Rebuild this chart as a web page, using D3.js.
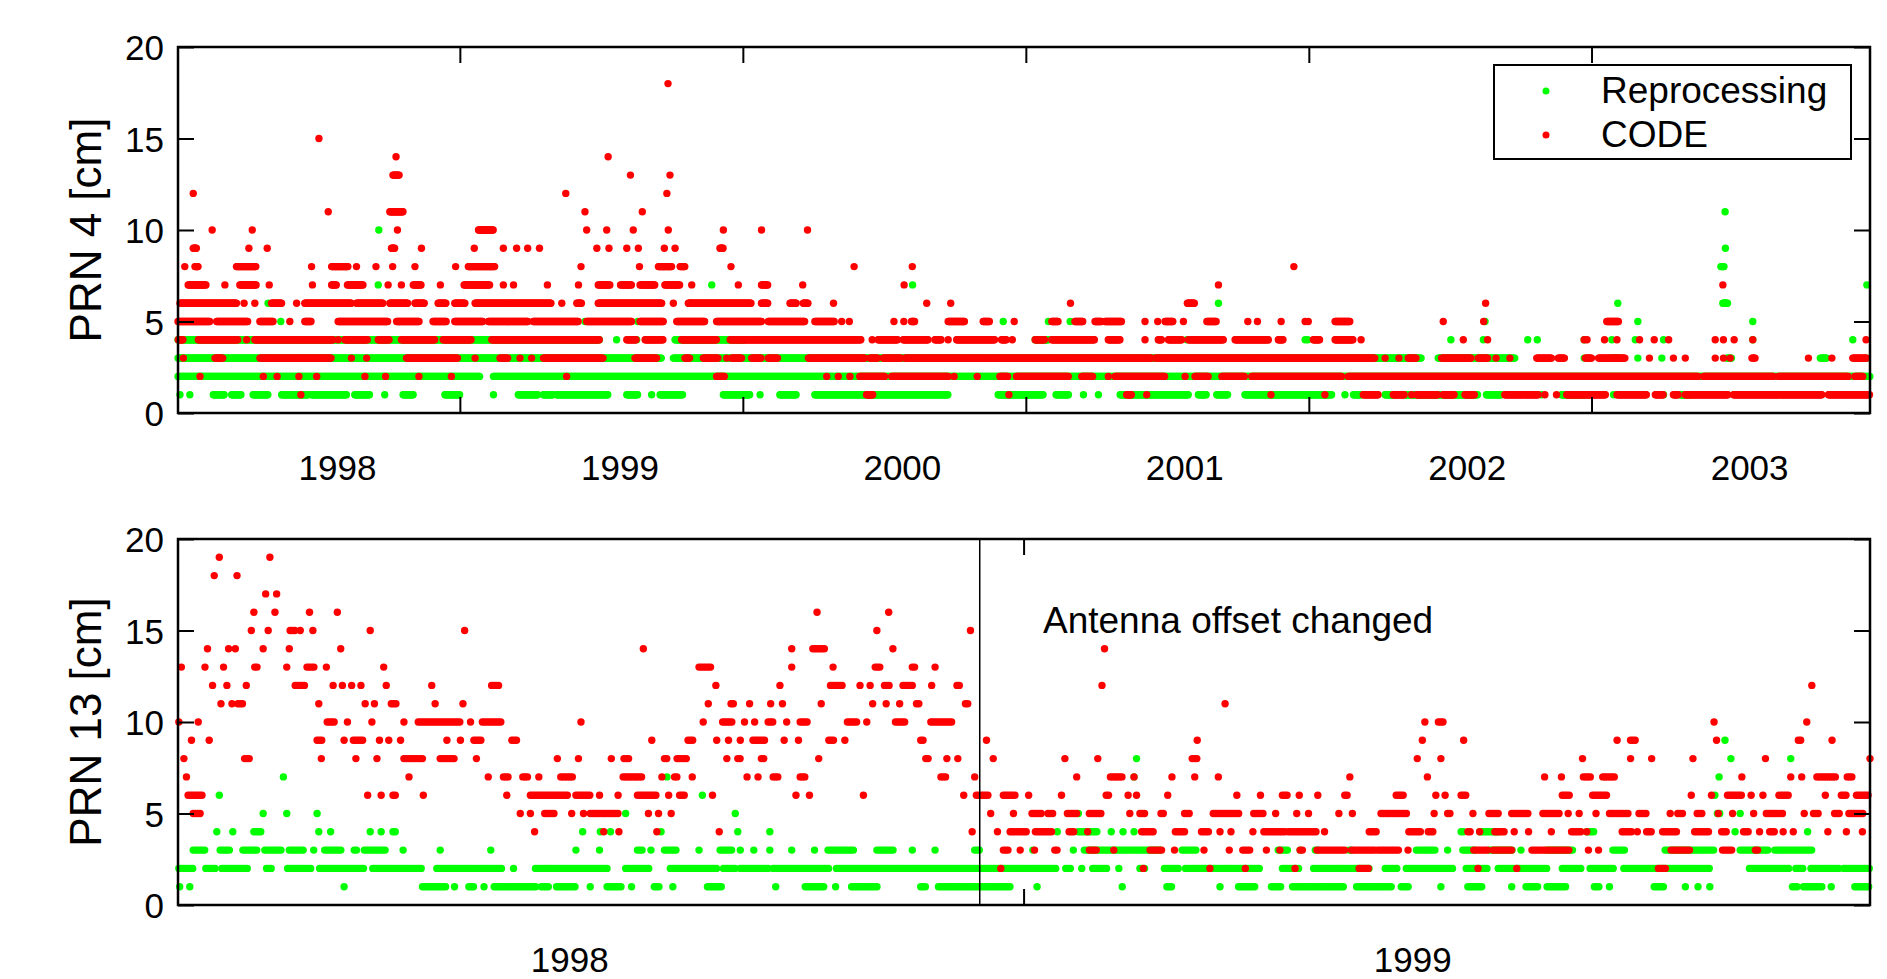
<!DOCTYPE html>
<html>
<head>
<meta charset="utf-8">
<script src="https://cdn.jsdelivr.net/npm/d3@7"></script>
<style>
  body { margin: 0; background: #fff; }
  svg { display: block; font-family: "Liberation Sans", Arial, sans-serif; }
</style>
</head>
<body>
<div id="chart"></div>
<script>
// runs of daily solutions: [value_cm, startYear, endYear]; single days as [value_cm, year]
const prn4Reproc = [
  [2, 1997.437, 1998.507], [2, 1998.554, 2003.428],
  [3, 1997.437, 1999.150], [3, 1999.191, 2001.840], [3, 2001.899, 2002.171], [3, 2002.416],
  [3, 2002.432], [3, 2002.514, 2002.544], [3, 2002.606], [3, 2002.691], [3, 2002.921, 2002.939],
  [3, 2003.252, 2003.275], [3, 2003.417],
  [4, 1997.437, 1998.931], [4, 1998.990], [4, 1999.061], [4, 1999.197, 1999.445],
  [4, 2000.472, 2000.519], [4, 2001.009], [4, 2001.428], [4, 2001.437], [4, 2001.944], [4, 2002.059],
  [4, 2002.216], [4, 2002.250], [4, 2002.416], [4, 2002.514], [4, 2002.597], [4, 2002.697],
  [4, 2003.013], [4, 2003.367],
  [5, 1997.801], [5, 1998.878], [5, 1999.065], [5, 2000.359], [5, 2000.519], [5, 2000.596],
  [5, 2002.065], [5, 2002.606], [5, 2003.013],
  [6, 1997.756], [6, 1999.250], [6, 2001.121], [6, 2002.535], [6, 2002.907, 2002.925],
  [7, 1998.146], [7, 1999.327], [7, 2000.038], [7, 2003.417],
  [8, 2002.900, 2002.912], [9, 2002.916], [10, 1998.148], [11, 2002.915],
  [1, 1997.444], [1, 1997.479], [1, 1997.562, 1997.603], [1, 1997.627, 1997.662], [1, 1997.703, 1997.756],
  [1, 1997.804, 1997.898], [1, 1997.910, 1998.034], [1, 1998.063, 1998.116], [1, 1998.169],
  [1, 1998.234, 1998.270], [1, 1998.382, 1998.435], [1, 1998.554], [1, 1998.642, 1998.713],
  [1, 1998.731, 1998.766], [1, 1998.778, 1998.961], [1, 1999.026, 1999.067], [1, 1999.114],
  [1, 1999.144, 1999.226], [1, 1999.368, 1999.462], [1, 1999.498], [1, 1999.568, 1999.627],
  [1, 1999.692, 2000.164], [1, 2000.341, 2000.501], [1, 2000.546, 2000.590], [1, 2000.643], [1, 2000.696],
  [1, 2000.773, 2001.015], [1, 2001.050, 2001.080], [1, 2001.115, 2001.156], [1, 2001.215, 2001.522],
  [1, 2001.569], [1, 2001.599, 2001.628], [1, 2001.711, 2001.746], [1, 2001.781, 2002.041],
  [1, 2002.070, 2002.124], [1, 2002.265], [1, 2002.336, 2002.419], [1, 2002.520], [1, 2002.697],
  [1, 2002.756, 2002.791], [1, 2003.098]
];

const prn4Code = [
  [1, 1997.872], [1, 1999.875, 1999.899], [1, 2000.379], [1, 2000.796, 2000.814], [1, 2000.867], [1, 2001.307],
  [1, 2001.498], [1, 2001.634, 2001.687], [1, 2001.740, 2001.781], [1, 2001.805], [1, 2001.823, 2001.899],
  [1, 2001.917, 2001.958], [1, 2001.994, 2002.029], [1, 2002.135, 2002.253], [1, 2002.277], [1, 2002.318],
  [1, 2002.354, 2002.491], [1, 2002.532, 2002.638], [1, 2002.668, 2002.697], [1, 2002.732, 2002.750],
  [1, 2002.774, 2002.927], [1, 2002.945, 2003.258], [1, 2003.281, 2003.428],
  [2, 1997.515], [2, 1997.739], [2, 1997.788], [2, 1997.865], [2, 1997.928], [2, 1998.099], [2, 1998.172],
  [2, 1998.290], [2, 1998.405], [2, 1998.813], [2, 1999.344, 1999.374], [2, 1999.734], [2, 1999.775],
  [2, 1999.816], [2, 1999.851, 1999.940], [2, 1999.964, 2000.164], [2, 2000.185], [2, 2000.267],
  [2, 2000.347, 2000.377], [2, 2000.406, 2000.590], [2, 2000.637, 2000.678], [2, 2000.731],
  [2, 2000.755, 2000.932], [2, 2001.003], [2, 2001.038, 2001.085], [2, 2001.133, 2001.215],
  [2, 2001.239, 2001.557], [2, 2001.581, 2002.821], [2, 2002.839, 2003.086], [2, 2003.104, 2003.352],
  [2, 2003.375, 2003.405],
  [3, 1997.456], [3, 1997.568, 1997.597], [3, 1997.727, 1997.981], [3, 1998.051], [3, 1998.105],
  [3, 1998.246, 1998.429], [3, 1998.489], [3, 1998.577, 1998.607], [3, 1998.648], [3, 1998.689],
  [3, 1998.731, 1998.943], [3, 1999.055, 1999.132], [3, 1999.232, 1999.250], [3, 1999.297, 1999.350],
  [3, 1999.380], [3, 1999.397, 1999.433], [3, 1999.468, 1999.503], [3, 1999.527, 1999.562],
  [3, 1999.669, 1999.869], [3, 1999.887, 1999.916], [3, 1999.934, 1999.999], [3, 2000.011, 2000.885],
  [3, 2000.897, 2001.675], [3, 2001.711], [3, 2001.760], [3, 2001.793, 2001.823], [3, 2001.911, 2002.017],
  [3, 2002.041, 2002.076], [3, 2002.104], [3, 2002.153], [3, 2002.248, 2002.301], [3, 2002.324, 2002.348],
  [3, 2002.420, 2002.443], [3, 2002.467, 2002.561], [3, 2002.647], [3, 2002.732], [3, 2002.774],
  [3, 2002.880], [3, 2002.909], [3, 2002.933], [3, 2003.010, 2003.022], [3, 2003.210], [3, 2003.293],
  [3, 2003.367, 2003.417],
  [4, 1997.438, 1997.456], [4, 1997.509, 1997.650], [4, 1997.680], [4, 1997.709, 1997.987], [4, 1998.004],
  [4, 1998.028, 1998.110], [4, 1998.146, 1998.187], [4, 1998.228, 1998.346], [4, 1998.376, 1998.477],
  [4, 1998.548, 1998.931], [4, 1999.026, 1999.061], [4, 1999.091, 1999.156], [4, 1999.220, 1999.344],
  [4, 1999.392, 1999.857], [4, 1999.895], [4, 1999.916, 1999.987], [4, 2000.005, 2000.093],
  [4, 2000.117, 2000.141], [4, 2000.164], [4, 2000.194, 2000.329], [4, 2000.353, 2000.371], [4, 2000.391],
  [4, 2000.472, 2000.507], [4, 2000.531, 2000.684], [4, 2000.731, 2000.773], [4, 2000.861],
  [4, 2000.908, 2000.920], [4, 2000.944, 2000.991], [4, 2001.015, 2001.139], [4, 2001.180, 2001.298],
  [4, 2001.333, 2001.351], [4, 2001.457, 2001.481], [4, 2001.534, 2001.599], [4, 2001.626], [4, 2001.988],
  [4, 2002.074], [4, 2002.416], [4, 2002.426], [4, 2002.488], [4, 2002.532], [4, 2002.612], [4, 2002.664],
  [4, 2002.715], [4, 2002.880], [4, 2002.909], [4, 2002.947], [4, 2003.013], [4, 2003.414],
  [5, 1997.437, 1997.550], [5, 1997.574, 1997.686], [5, 1997.727, 1997.774], [5, 1997.833],
  [5, 1997.886, 1997.910], [5, 1998.004, 1998.181], [5, 1998.211, 1998.293], [5, 1998.340, 1998.388],
  [5, 1998.417, 1998.518], [5, 1998.536, 1998.678], [5, 1998.695, 1998.855], [5, 1998.884, 1999.043],
  [5, 1999.073, 1999.156], [5, 1999.203, 1999.303], [5, 1999.344, 1999.503], [5, 1999.527, 1999.657],
  [5, 1999.692, 1999.763], [5, 1999.787], [5, 1999.814], [5, 1999.972], [5, 2000.007], [5, 2000.034, 2000.046],
  [5, 2000.164, 2000.223], [5, 2000.288, 2000.312], [5, 2000.398], [5, 2000.531, 2000.554],
  [5, 2000.613, 2000.643], [5, 2000.684, 2000.708], [5, 2000.720, 2000.779], [5, 2000.861], [5, 2000.906],
  [5, 2000.932, 2000.962], [5, 2000.997], [5, 2001.080, 2001.115], [5, 2001.225], [5, 2001.259],
  [5, 2001.343], [5, 2001.428], [5, 2001.439], [5, 2001.534, 2001.587], [5, 2001.917], [5, 2002.060],
  [5, 2002.496, 2002.538],
  [6, 1997.444, 1997.644], [6, 1997.671], [6, 1997.709], [6, 1997.768, 1997.804], [6, 1997.857],
  [6, 1997.886, 1998.051], [6, 1998.069, 1998.164], [6, 1998.187, 1998.252], [6, 1998.276, 1998.311],
  [6, 1998.358, 1998.388], [6, 1998.417, 1998.453], [6, 1998.489, 1998.760], [6, 1998.796],
  [6, 1998.849, 1998.866], [6, 1998.925, 1999.150], [6, 1999.191], [6, 1999.244, 1999.468],
  [6, 1999.503, 1999.527], [6, 1999.604, 1999.627], [6, 1999.651, 1999.669], [6, 1999.758], [6, 2000.088],
  [6, 2000.173], [6, 2000.597], [6, 2001.011, 2001.038], [6, 2002.067],
  [7, 1997.473, 1997.538], [7, 1997.603], [7, 1997.656, 1997.715], [7, 1997.760], [7, 1997.913],
  [7, 1997.981, 1997.998], [7, 1998.037, 1998.093], [7, 1998.181], [7, 1998.228], [7, 1998.270, 1998.299],
  [7, 1998.366], [7, 1998.450, 1998.542], [7, 1998.589], [7, 1998.625], [7, 1998.745], [7, 1998.855],
  [7, 1998.925, 1998.967], [7, 1999.004, 1999.043], [7, 1999.073, 1999.126], [7, 1999.161, 1999.215],
  [7, 1999.256], [7, 1999.421], [7, 1999.503, 1999.527], [7, 1999.649], [7, 2000.008], [7, 2001.121],
  [7, 2002.907],
  [8, 1997.461], [8, 1997.497, 1997.509], [8, 1997.644, 1997.715], [8, 1997.910], [8, 1997.981, 1998.040],
  [8, 1998.069], [8, 1998.138], [8, 1998.197], [8, 1998.276], [8, 1998.420], [8, 1998.465, 1998.560],
  [8, 1998.864], [8, 1999.071], [8, 1999.138, 1999.185], [8, 1999.215, 1999.232], [8, 1999.395],
  [8, 1999.831], [8, 2000.037], [8, 2001.388],
  [9, 1997.491, 1997.503], [9, 1997.688], [9, 1997.753], [9, 1998.193, 1998.205], [9, 1998.299],
  [9, 1998.486], [9, 1998.589], [9, 1998.636], [9, 1998.675], [9, 1998.717], [9, 1998.920], [9, 1998.963],
  [9, 1999.026], [9, 1999.067], [9, 1999.159], [9, 1999.197], [9, 1999.356, 1999.368],
  [10, 1997.558], [10, 1997.700], [10, 1998.214], [10, 1998.501, 1998.554], [10, 1998.884], [10, 1998.955],
  [10, 1999.049], [10, 1999.173], [10, 1999.368], [10, 1999.503], [10, 1999.666],
  [11, 1997.969], [11, 1998.187, 1998.234], [11, 1998.878], [11, 1999.081],
  [12, 1997.491], [12, 1998.810], [12, 1999.168],
  [13, 1998.198, 1998.222], [13, 1999.039], [13, 1999.179],
  [14, 1998.209], [14, 1998.960], [15, 1997.936], [18, 1999.172]
];

const prn13Reproc = [
  [9, 1999.371], [8, 1998.673], [8, 1999.378], [8, 1999.449],
  [7, 1997.661], [7, 1998.116], [7, 1998.670], [7, 1999.364],
  [6, 1997.585], [6, 1998.158], [6, 1999.359],
  [5, 1997.637], [5, 1997.665], [5, 1997.701], [5, 1998.067], [5, 1998.197], [5, 1998.604],
  [5, 1999.362, 1999.367], [5, 1999.389],
  [4, 1997.582], [4, 1997.601], [4, 1997.626, 1997.635], [4, 1997.703], [4, 1997.717], [4, 1997.764],
  [4, 1997.777], [4, 1997.791, 1997.795], [4, 1998.016], [4, 1998.037], [4, 1998.049], [4, 1998.109],
  [4, 1998.200], [4, 1998.238], [4, 1998.579], [4, 1998.604, 1998.626], [4, 1998.643], [4, 1998.657],
  [4, 1998.670], [4, 1999.058, 1999.062], [4, 1999.080, 1999.102], [4, 1999.207, 1999.216], [4, 1999.383],
  [4, 1999.469],
  [3, 1997.554, 1997.570], [3, 1997.586, 1997.598], [3, 1997.613, 1997.631], [3, 1997.639, 1997.659],
  [3, 1997.668, 1997.685], [3, 1997.697], [3, 1997.710, 1997.730], [3, 1997.745, 1997.749],
  [3, 1997.757, 1997.782], [3, 1997.803], [3, 1997.847], [3, 1997.907], [3, 1998.008], [3, 1998.036],
  [3, 1998.081, 1998.087], [3, 1998.097], [3, 1998.113, 1998.129], [3, 1998.154, 1998.155],
  [3, 1998.179, 1998.195], [3, 1998.203], [3, 1998.219], [3, 1998.238], [3, 1998.264], [3, 1998.291],
  [3, 1998.307, 1998.338], [3, 1998.365, 1998.385], [3, 1998.407], [3, 1998.434], [3, 1998.481, 1998.489],
  [3, 1998.550], [3, 1998.598], [3, 1998.611, 1998.703], [3, 1998.727, 1998.746], [3, 1998.841, 1998.854],
  [3, 1998.867], [3, 1998.885, 1998.889], [3, 1998.925, 1998.929], [3, 1999.005, 1999.027], [3, 1999.042],
  [3, 1999.060, 1999.076], [3, 1999.091, 1999.120], [3, 1999.129], [3, 1999.160, 1999.191],
  [3, 1999.238, 1999.253], [3, 1999.300, 1999.360], [3, 1999.389, 1999.424], [3, 1999.430, 1999.475],
  [2, 1997.537, 1997.554], [2, 1997.569, 1997.582], [2, 1997.588, 1997.620], [2, 1997.641, 1997.649],
  [2, 1997.666, 1997.696], [2, 1997.704, 1997.757], [2, 1997.767, 1997.826], [2, 1997.843, 1997.921],
  [2, 1997.934], [2, 1997.960, 1998.045], [2, 1998.067, 1998.096], [2, 1998.120, 1998.176],
  [2, 1998.183, 1998.197], [2, 1998.203, 1998.237], [2, 1998.242, 1998.309], [2, 1998.317, 1998.579],
  [2, 1998.589, 1998.597], [2, 1998.608], [2, 1998.621, 1998.640], [2, 1998.652], [2, 1998.677, 1998.685],
  [2, 1998.706, 1998.724], [2, 1998.731, 1998.820], [2, 1998.846, 1998.867], [2, 1998.883, 1998.951],
  [2, 1998.968, 1998.982], [2, 1998.993, 1999.049], [2, 1999.064, 1999.091], [2, 1999.102, 1999.160],
  [2, 1999.178, 1999.200], [2, 1999.211, 1999.240], [2, 1999.251, 1999.353], [2, 1999.400, 1999.449],
  [2, 1999.455, 1999.464], [2, 1999.473, 1999.506], [2, 1999.512, 1999.543],
  [1, 1997.538], [1, 1997.550], [1, 1997.733], [1, 1997.826, 1997.855], [1, 1997.864], [1, 1997.881, 1997.889],
  [1, 1997.899], [1, 1997.911, 1997.961], [1, 1997.967, 1997.977], [1, 1997.985, 1998.007], [1, 1998.025],
  [1, 1998.045, 1998.064], [1, 1998.074], [1, 1998.101, 1998.109], [1, 1998.123], [1, 1998.164, 1998.182],
  [1, 1998.245], [1, 1998.280, 1998.303], [1, 1998.316], [1, 1998.335, 1998.366], [1, 1998.417, 1998.425],
  [1, 1998.438, 1998.523], [1, 1998.555], [1, 1998.656], [1, 1998.709, 1998.717], [1, 1998.772],
  [1, 1998.794, 1998.815], [1, 1998.833, 1998.846], [1, 1998.858, 1998.920], [1, 1998.934, 1998.976],
  [1, 1998.987, 1998.996], [1, 1999.034], [1, 1999.066, 1999.084], [1, 1999.118], [1, 1999.135, 1999.151],
  [1, 1999.160, 1999.184], [1, 1999.216, 1999.222], [1, 1999.234], [1, 1999.287, 1999.298], [1, 1999.324],
  [1, 1999.339], [1, 1999.353], [1, 1999.451, 1999.458], [1, 1999.464, 1999.486], [1, 1999.497],
  [1, 1999.525, 1999.543]
];

const prn13Code = [
  [19, 1997.585], [19, 1997.645], [18, 1997.579], [18, 1997.606], [17, 1997.640], [17, 1997.653],
  [16, 1997.626], [16, 1997.651], [16, 1997.692], [16, 1997.725], [16, 1998.294], [16, 1998.379],
  [15, 1997.623], [15, 1997.643], [15, 1997.669, 1997.675], [15, 1997.681], [15, 1997.696], [15, 1997.764],
  [15, 1997.876], [15, 1998.365], [15, 1998.476],
  [14, 1997.571], [14, 1997.596], [14, 1997.604], [14, 1997.637], [14, 1997.668], [14, 1997.729],
  [14, 1998.088], [14, 1998.264], [14, 1998.289, 1998.304], [14, 1998.384], [14, 1998.635],
  [13, 1997.540], [13, 1997.568], [13, 1997.590], [13, 1997.627, 1997.632], [13, 1997.665],
  [13, 1997.689, 1997.698], [13, 1997.712], [13, 1997.780], [13, 1998.154, 1998.168], [13, 1998.264, 1998.266],
  [13, 1998.313], [13, 1998.363, 1998.371], [13, 1998.407, 1998.410], [13, 1998.434],
  [12, 1997.577], [12, 1997.594], [12, 1997.617], [12, 1997.675, 1997.688], [12, 1997.720], [12, 1997.731],
  [12, 1997.742], [12, 1997.753], [12, 1997.783], [12, 1997.837], [12, 1997.908, 1997.918], [12, 1998.174],
  [12, 1998.250], [12, 1998.310, 1998.325], [12, 1998.345], [12, 1998.357], [12, 1998.374, 1998.382],
  [12, 1998.396, 1998.407], [12, 1998.430], [12, 1998.460, 1998.465], [12, 1998.632], [12, 1999.474],
  [11, 1997.587], [11, 1997.600], [11, 1997.607, 1997.614], [11, 1997.703], [11, 1997.758], [11, 1997.769],
  [11, 1997.789, 1997.796], [11, 1997.841], [11, 1997.874], [11, 1998.165], [11, 1998.192, 1998.197],
  [11, 1998.214], [11, 1998.239], [11, 1998.253], [11, 1998.299], [11, 1998.360], [11, 1998.376],
  [11, 1998.392], [11, 1998.412, 1998.415], [11, 1998.470, 1998.473], [11, 1998.778],
  [10, 1997.537], [10, 1997.560], [10, 1997.713, 1997.722], [10, 1997.737], [10, 1997.766], [10, 1997.804],
  [10, 1997.821, 1997.871], [10, 1997.883], [10, 1997.897, 1997.921], [10, 1998.014], [10, 1998.159],
  [10, 1998.182, 1998.195], [10, 1998.208], [10, 1998.220], [10, 1998.236, 1998.242], [10, 1998.258],
  [10, 1998.274, 1998.283], [10, 1998.330, 1998.343], [10, 1998.353], [10, 1998.387, 1998.399],
  [10, 1998.429, 1998.454], [10, 1999.015], [10, 1999.031, 1999.038], [10, 1999.358], [10, 1999.468],
  [9, 1997.552], [9, 1997.573], [9, 1997.701, 1997.707], [9, 1997.733], [9, 1997.744, 1997.757], [9, 1997.775],
  [9, 1997.786], [9, 1997.800], [9, 1997.855], [9, 1997.871], [9, 1997.887, 1997.897], [9, 1997.932, 1997.940],
  [9, 1998.098], [9, 1998.141, 1998.149], [9, 1998.175], [9, 1998.189], [9, 1998.203], [9, 1998.218, 1998.232],
  [9, 1998.255], [9, 1998.272], [9, 1998.308, 1998.314], [9, 1998.327], [9, 1998.417, 1998.420], [9, 1998.495],
  [9, 1998.745], [9, 1999.012], [9, 1999.061], [9, 1999.243], [9, 1999.259, 1999.266], [9, 1999.361],
  [9, 1999.458, 1999.462], [9, 1999.498],
  [8, 1997.543], [8, 1997.615, 1997.622], [8, 1997.706], [8, 1997.747], [8, 1997.772], [8, 1997.804, 1997.826],
  [8, 1997.847, 1997.864], [8, 1997.890], [8, 1997.986], [8, 1998.011], [8, 1998.050], [8, 1998.065, 1998.072],
  [8, 1998.113, 1998.117], [8, 1998.128, 1998.141], [8, 1998.187], [8, 1998.200, 1998.205],
  [8, 1998.228, 1998.233], [8, 1998.296], [8, 1998.423, 1998.426], [8, 1998.448], [8, 1998.461], [8, 1998.503],
  [8, 1998.588], [8, 1998.627], [8, 1998.739, 1998.747], [8, 1999.006], [8, 1999.034], [8, 1999.202],
  [8, 1999.259], [8, 1999.284], [8, 1999.333], [8, 1999.419], [8, 1999.543],
  [7, 1997.546], [7, 1997.810], [7, 1997.904], [7, 1997.922, 1997.929], [7, 1997.945, 1997.953], [7, 1997.964],
  [7, 1997.990, 1998.006], [7, 1998.064, 1998.088], [7, 1998.110], [7, 1998.125, 1998.130], [7, 1998.146],
  [7, 1998.211], [7, 1998.224], [7, 1998.242, 1998.248], [7, 1998.274, 1998.282], [7, 1998.441, 1998.449],
  [7, 1998.481], [7, 1998.602], [7, 1998.642, 1998.658], [7, 1998.670], [7, 1998.715], [7, 1998.742],
  [7, 1998.770], [7, 1998.926], [7, 1999.018], [7, 1999.157], [7, 1999.177], [7, 1999.203, 1999.213],
  [7, 1999.226, 1999.240], [7, 1999.391], [7, 1999.449], [7, 1999.462], [7, 1999.480, 1999.504],
  [7, 1999.516, 1999.524],
  [6, 1997.548, 1997.566], [6, 1997.761], [6, 1997.777], [6, 1997.791, 1997.795], [6, 1997.827], [6, 1997.926],
  [6, 1997.954, 1997.998], [6, 1998.008, 1998.027], [6, 1998.036], [6, 1998.058], [6, 1998.081, 1998.104],
  [6, 1998.118], [6, 1998.131, 1998.138], [6, 1998.170], [6, 1998.269], [6, 1998.285], [6, 1998.349],
  [6, 1998.468], [6, 1998.483, 1998.499], [6, 1998.515, 1998.531], [6, 1998.545], [6, 1998.584],
  [6, 1998.637, 1998.641], [6, 1998.663], [6, 1998.673], [6, 1998.710], [6, 1998.792], [6, 1998.820],
  [6, 1998.846, 1998.854], [6, 1998.866], [6, 1998.888], [6, 1998.920, 1998.925], [6, 1998.981, 1998.990],
  [6, 1999.028], [6, 1999.039], [6, 1999.058, 1999.065], [6, 1999.178, 1999.188], [6, 1999.214, 1999.231],
  [6, 1999.331], [6, 1999.355], [6, 1999.374, 1999.393], [6, 1999.402], [6, 1999.416], [6, 1999.435, 1999.446],
  [6, 1999.490], [6, 1999.509, 1999.515], [6, 1999.527, 1999.542],
  [5, 1997.554, 1997.563], [5, 1997.942], [5, 1997.954], [5, 1997.971, 1997.982], [5, 1998.003], [5, 1998.017],
  [5, 1998.025, 1998.059], [5, 1998.094], [5, 1998.106], [5, 1998.121], [5, 1998.500], [5, 1998.527],
  [5, 1998.549, 1998.560], [5, 1998.568, 1998.576], [5, 1998.591, 1998.603], [5, 1998.617, 1998.631],
  [5, 1998.665], [5, 1998.677, 1998.685], [5, 1998.702, 1998.706], [5, 1998.730, 1998.738],
  [5, 1998.764, 1998.796], [5, 1998.812, 1998.825], [5, 1998.838], [5, 1998.863], [5, 1998.877], [5, 1998.913],
  [5, 1998.929], [5, 1998.963, 1998.995], [5, 1999.026], [5, 1999.042, 1999.047], [5, 1999.072],
  [5, 1999.091, 1999.102], [5, 1999.118, 1999.138], [5, 1999.155, 1999.176], [5, 1999.185], [5, 1999.198],
  [5, 1999.218], [5, 1999.234, 1999.256], [5, 1999.269, 1999.278], [5, 1999.306], [5, 1999.315, 1999.323],
  [5, 1999.338, 1999.344], [5, 1999.363], [5, 1999.380], [5, 1999.405], [5, 1999.420, 1999.440], [5, 1999.465],
  [5, 1999.476, 1999.484], [5, 1999.501, 1999.509], [5, 1999.518, 1999.537],
  [4, 1997.959], [4, 1998.041], [4, 1998.059], [4, 1998.104], [4, 1998.178], [4, 1998.478], [4, 1998.508],
  [4, 1998.523, 1998.544], [4, 1998.553, 1998.574], [4, 1998.593, 1998.600], [4, 1998.615],
  [4, 1998.679, 1998.695], [4, 1998.719, 1998.732], [4, 1998.750, 1998.759], [4, 1998.772], [4, 1998.785],
  [4, 1998.811], [4, 1998.824, 1998.849], [4, 1998.853, 1998.887], [4, 1998.896], [4, 1998.949, 1998.959],
  [4, 1998.996, 1999.011], [4, 1999.019, 1999.025], [4, 1999.066, 1999.071], [4, 1999.080],
  [4, 1999.098, 1999.109], [4, 1999.121], [4, 1999.138], [4, 1999.165], [4, 1999.189, 1999.200], [4, 1999.207],
  [4, 1999.249, 1999.260], [4, 1999.267], [4, 1999.278, 1999.284], [4, 1999.297, 1999.315],
  [4, 1999.335, 1999.353], [4, 1999.367, 1999.373], [4, 1999.393, 1999.400], [4, 1999.412],
  [4, 1999.424, 1999.431], [4, 1999.440], [4, 1999.452], [4, 1999.493], [4, 1999.515], [4, 1999.534],
  [3, 1998.515, 1998.521], [3, 1998.535], [3, 1998.552], [3, 1998.576, 1998.581], [3, 1998.617, 1998.626],
  [3, 1998.646], [3, 1998.689, 1998.703], [3, 1998.718], [3, 1998.753], [3, 1998.783], [3, 1998.799, 1998.809],
  [3, 1998.827], [3, 1998.843], [3, 1998.867, 1998.871], [3, 1998.887, 1998.920], [3, 1998.928, 1998.956],
  [3, 1998.959, 1998.985], [3, 1998.995], [3, 1999.073, 1999.091], [3, 1999.096, 1999.118],
  [3, 1999.142, 1999.187], [3, 1999.209], [3, 1999.221], [3, 1999.307, 1999.329], [3, 1999.368, 1999.380],
  [3, 1999.407, 1999.411],
  [2, 1998.512], [2, 1998.681], [2, 1998.760], [2, 1998.802], [2, 1998.861], [2, 1998.937, 1998.950],
  [2, 1999.078], [2, 1999.124], [2, 1999.292, 1999.302]
];

const yTicks = [0, 5, 10, 15, 20];
const prn4Years = [1998, 1999, 2000, 2001, 2002, 2003];
const prn4TickMarks = [1998.435, 1999.437, 2000.439, 2001.441, 2002.442];
const prn13Years = [1998, 1999];
const prn13TickMarks = [1998.539];
const antennaChange = 1998.487;
const legendLabels = ["Reprocessing", "CODE"];
const seriesColors = ["#00ff00", "#ff0000"];

const DAY = 1 / 365.25;

function expand(runs) {
    const pts = [];
    runs.forEach(r => {
        const v = r[0], t0 = r[1], t1 = r.length > 2 ? r[2] : r[1];
        for (let t = t0; t <= t1 + 1e-9; t += DAY) pts.push({ t: t, v: v });
    });
    return pts;
}

const W = 1887, H = 979;
const svg = d3.select("#chart").append("svg")
    .attr("width", W)
    .attr("height", H);

function panel(cfg) {
    const x = d3.scaleLinear().domain(cfg.xDomain).range([178, 1870]);
    const y = d3.scaleLinear().domain([0, 20]).range([cfg.bottom, cfg.top]);
    const g = svg.append("g");

    // points: reprocessing first, CODE on top
    [cfg.green, cfg.red].forEach((runs, i) => {
        g.append("g").selectAll("circle")
            .data(expand(runs))
            .enter()
            .append("circle")
            .attr("cx", d => x(d.t))
            .attr("cy", d => y(d.v))
            .attr("r", 3.7)
            .attr("fill", seriesColors[i]);
    });

    const axes = [
        { a: d3.axisLeft(y).tickValues(yTicks).tickSize(-16).tickPadding(14), tr: `translate(178,0)` },
        { a: d3.axisRight(y).tickValues(yTicks).tickSize(-16).tickFormat(""), tr: `translate(1870,0)` },
        { a: d3.axisBottom(x).tickValues(cfg.tickMarks).tickSize(-16).tickFormat(""), tr: `translate(0,${cfg.bottom})` },
        { a: d3.axisTop(x).tickValues(cfg.tickMarks).tickSize(-16).tickFormat(""), tr: `translate(0,${cfg.top})` },
        { a: d3.axisBottom(x).tickValues(cfg.years).tickSize(0).tickPadding(42).tickFormat(d3.format("d")), tr: `translate(0,${cfg.bottom})` }
    ];
    axes.forEach(ax => {
        const sel = g.append("g").attr("transform", ax.tr).call(ax.a);
        sel.select(".domain").remove();
        sel.selectAll(".tick line").attr("stroke", "#000").attr("stroke-width", 2);
        sel.selectAll(".tick text")
            .attr("fill", "#000")
            .style("font-size", "35px")
            .style("font-family", '"Liberation Sans", Arial, sans-serif');
    });
    g.selectAll(".tick text").filter(function () { return d3.select(this).attr("dy") === "0.32em"; })
        .attr("dy", "0.36em");

    g.append("rect")
        .attr("x", 178).attr("y", cfg.top)
        .attr("width", 1870 - 178).attr("height", cfg.bottom - cfg.top)
        .attr("fill", "none").attr("stroke", "#000").attr("stroke-width", 2.5);

    g.append("text")
        .attr("transform", `translate(85,${(cfg.top + cfg.bottom) / 2}) rotate(-90)`)
        .attr("text-anchor", "middle")
        .attr("dominant-baseline", "central")
        .style("font-size", "44px")
        .text(cfg.title);

    return { g, x, y };
}

const p1 = panel({
    xDomain: [1997.437, 2003.428], top: 47, bottom: 413,
    green: prn4Reproc, red: prn4Code,
    tickMarks: prn4TickMarks, years: prn4Years, title: "PRN 4 [cm]"
});

const p2 = panel({
    xDomain: [1997.536, 1999.543], top: 539, bottom: 905,
    green: prn13Reproc, red: prn13Code,
    tickMarks: prn13TickMarks, years: prn13Years, title: "PRN 13 [cm]"
});

// antenna offset change
p2.g.append("line")
    .attr("x1", p2.x(antennaChange)).attr("x2", p2.x(antennaChange))
    .attr("y1", 539).attr("y2", 905)
    .attr("stroke", "#000").attr("stroke-width", 1.5);
p2.g.append("text")
    .attr("x", 1043).attr("y", 633)
    .style("font-size", "37px")
    .text("Antenna offset changed");

// legend
const lg = svg.append("g");
lg.append("rect")
    .attr("x", 1494).attr("y", 65).attr("width", 357).attr("height", 94)
    .attr("fill", "#fff").attr("stroke", "#000").attr("stroke-width", 2);
legendLabels.forEach((lab, i) => {
    lg.append("circle").attr("cx", 1546).attr("cy", 91 + i * 44).attr("r", 3.5).attr("fill", seriesColors[i]);
    lg.append("text").attr("x", 1601).attr("y", 103 + i * 44)
        .style("font-size", "37px").text(lab);
});
</script>
</body>
</html>
